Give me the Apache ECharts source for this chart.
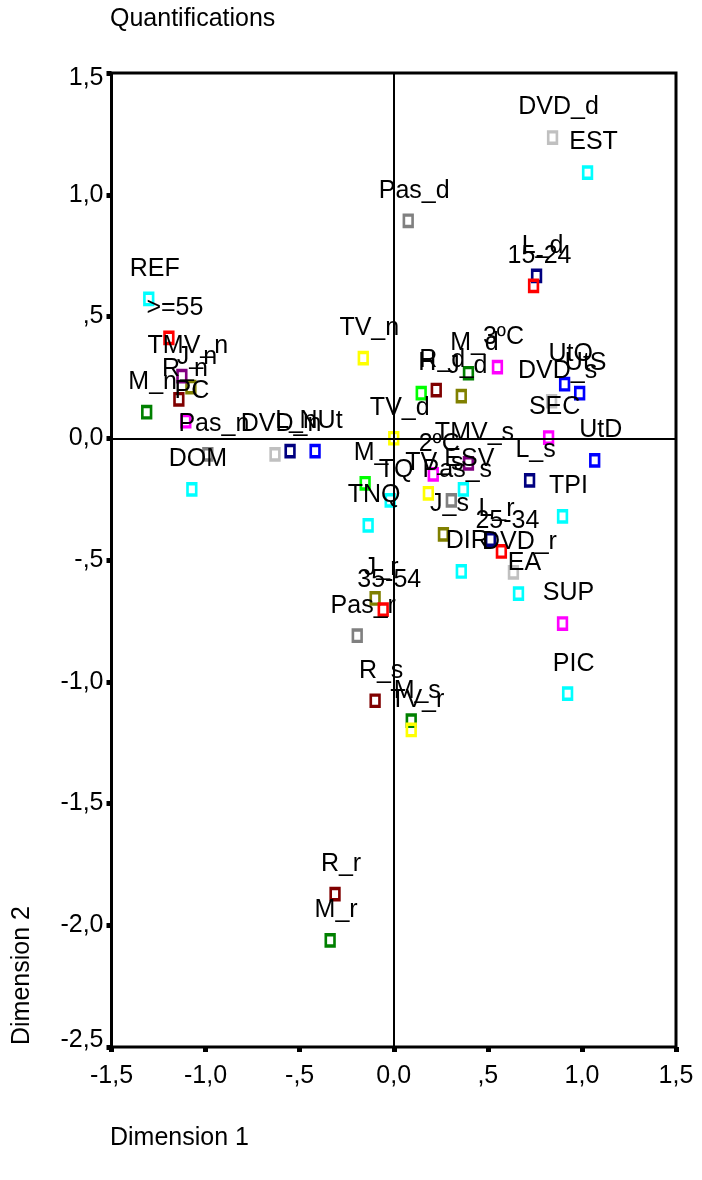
<!DOCTYPE html>
<html>
<head>
<meta charset="utf-8">
<script src="https://cdn.jsdelivr.net/npm/echarts@6/dist/echarts.min.js"></script>
<style>
html,body{margin:0;padding:0;background:#fff;}
#chart{width:702px;height:1180px;}
</style>
</head>
<body>
<div id="chart"></div>
<script>
// ---- data (Dimension 1, Dimension 2) ----
const R_labels = ['R_n', 'R_d', 'R_s', 'R_r'];
const R_dim1 = [-1.142, 0.226, -0.099, -0.312];
const R_dim2 = [0.160, 0.198, -1.078, -1.872];

const M_labels = ['M_n', 'M_d', 'M_s', 'M_r'];
const M_dim1 = [-1.313, 0.397, 0.093, -0.338];
const M_dim2 = [0.107, 0.267, -1.160, -2.062];

const TV_labels = ['TV_n', 'TV_d', 'TV_s', 'TV_r'];
const TV_dim1 = [-0.162, 0.000, 0.184, 0.093];
const TV_dim2 = [0.329, 0.000, -0.226, -1.198];

const J_labels = ['J_n', 'J_d', 'J_s', 'J_r'];
const J_dim1 = [-1.078, 0.359, 0.264, -0.099];
const J_dim2 = [0.210, 0.173, -0.395, -0.658];

const Pas_labels = ['Pas_n', 'Pas_d', 'Pas_s', 'Pas_r'];
const Pas_dim1 = [-0.988, 0.077, 0.306, -0.194];
const Pas_dim2 = [-0.066, 0.893, -0.255, -0.811];

const DVD_labels = ['DVD_n', 'DVD_d', 'DVD_s', 'DVD_r'];
const DVD_dim1 = [-0.631, 0.844, 0.839, 0.636];
const DVD_dim2 = [-0.066, 1.235, 0.152, -0.551];

const L_labels = ['L_n', 'L_d', 'L_s', 'L_r'];
const L_dim1 = [-0.551, 0.759, 0.722, 0.514];
const L_dim2 = [-0.053, 0.667, -0.173, -0.416];

const Ut_labels = ['NUt', 'UtO', 'UtS', 'UtD'];
const Ut_dim1 = [-0.418, 0.908, 0.988, 1.068];
const Ut_dim2 = [-0.053, 0.222, 0.185, -0.091];

const TMV_labels = ['TMV_n', 'TMV_s'];
const TMV_dim1 = [-1.126, 0.397];
const TMV_dim2 = [0.255, -0.103];

const Age_labels = ['15-24', '25-34', '35-54', '>=55'];
const Age_dim1 = [0.743, 0.572, -0.056, -1.195];
const Age_dim2 = [0.626, -0.465, -0.704, 0.412];

const Sex_labels = ['H', 'M_'];
const Sex_dim1 = [0.146, -0.152];
const Sex_dim2 = [0.185, -0.185];

const Edu_labels = ['PC', '2ºC', '3ºC', 'SEC', 'SUP'];
const Edu_dim1 = [-1.105, 0.210, 0.551, 0.823, 0.897];
const Edu_dim2 = [0.070, -0.148, 0.292, 0.003, -0.761];

const Occ_labels = ['REF', 'DOM', 'EST', 'TNQ', 'TQ', 'ESV', 'DIR', 'EA', 'TPI', 'PIC'];
const Occ_dim1 = [-1.302, -1.073, 1.030, -0.136, -0.019, 0.370, 0.359, 0.663, 0.897, 0.924];
const Occ_dim2 = [0.572, -0.210, 1.091, -0.358, -0.255, -0.210, -0.547, -0.638, -0.321, -1.049];

const xTickLabels = ['-1,5', '-1,0', '-,5', '0,0', ',5', '1,0', '1,5'];
const yTickLabels = ['-2,5', '-2,0', '-1,5', '-1,0', '-,5', '0,0', ',5', '1,0', '1,5'];

// ---- styling ----
const FONT = "'Liberation Sans', Arial, Helvetica, sans-serif";
const FS = 25;

const groups = [
  [R_labels, R_dim1, R_dim2, '#800000'],
  [M_labels, M_dim1, M_dim2, '#008000'],
  [TV_labels, TV_dim1, TV_dim2, '#ffff00'],
  [J_labels, J_dim1, J_dim2, '#808000'],
  [Pas_labels, Pas_dim1, Pas_dim2, '#808080'],
  [DVD_labels, DVD_dim1, DVD_dim2, '#c0c0c0'],
  [L_labels, L_dim1, L_dim2, '#000080'],
  [Ut_labels, Ut_dim1, Ut_dim2, '#0000ff'],
  [TMV_labels, TMV_dim1, TMV_dim2, '#800080'],
  [Age_labels, Age_dim1, Age_dim2, '#ff0000'],
  [Sex_labels, Sex_dim1, Sex_dim2, '#00ff00'],
  [Edu_labels, Edu_dim1, Edu_dim2, '#ff00ff'],
  [Occ_labels, Occ_dim1, Occ_dim2, '#00ffff']
];

const series = groups.map(function (g, gi) {
  const labels = g[0], d1 = g[1], d2 = g[2], col = g[3];
  return {
    type: 'scatter',
    name: 'g' + gi,
    symbol: 'rect',
    symbolSize: [8.7, 11.3],
    itemStyle: { color: 'rgba(0,0,0,0)', borderColor: col, borderWidth: 3, opacity: 1 },
    label: {
      show: true,
      position: 'inside',
      offset: [6, -30],
      formatter: function (p) { return p.data[2]; },
      color: '#000',
      fontFamily: FONT,
      fontSize: FS,
      lineHeight: FS
    },
    emphasis: { disabled: true },
    silent: true,
    data: labels.map(function (l, i) { return [d1[i], d2[i], l]; }),
    z: 3
  };
});

// zero reference lines
series.push({
  type: 'line',
  data: [],
  silent: true,
  markLine: {
    silent: true,
    symbol: 'none',
    label: { show: false },
    lineStyle: { color: '#000', width: 2, type: 'solid' },
    data: [{ xAxis: 0 }, { yAxis: 0 }]
  },
  z: 2
});

const tickText = { color: '#000', fontFamily: FONT, fontSize: FS, lineHeight: FS };

const chart = echarts.init(document.getElementById('chart'), null, { renderer: 'canvas' });
chart.setOption({
  animation: false,
  backgroundColor: '#fff',
  title: {
    text: 'Quantifications',
    left: 110,
    top: 7,
    padding: 0,
    textStyle: { fontFamily: FONT, fontSize: FS, fontWeight: 'normal', color: '#000', lineHeight: FS }
  },
  grid: {
    left: 111.5, right: 26, top: 73, bottom: 133,
    show: true, borderColor: '#000', borderWidth: 3, backgroundColor: 'transparent'
  },
  xAxis: {
    type: 'value', min: -1.5, max: 1.5, interval: 0.5, position: 'bottom',
    axisLine: { show: false, onZero: false },
    splitLine: { show: false },
    axisTick: { show: true, inside: false, length: 5, lineStyle: { color: '#000', width: 5 } },
    axisLabel: {
      margin: 17, color: '#000', fontFamily: FONT, fontSize: FS,
      formatter: function (v) { return xTickLabels[Math.round((v + 1.5) / 0.5)]; }
    }
  },
  yAxis: {
    type: 'value', min: -2.5, max: 1.5, interval: 0.5, position: 'left',
    axisLine: { show: false, onZero: false },
    splitLine: { show: false },
    axisTick: { show: true, inside: false, length: 5, lineStyle: { color: '#000', width: 5 } },
    axisLabel: {
      margin: 8, color: '#000', fontFamily: FONT, fontSize: FS,
      formatter: function (v) {
        const i = Math.round((v + 2.5) / 0.5);
        const t = yTickLabels[i];
        if (i === 0) return '{lo|' + t + '}';
        if (i === yTickLabels.length - 1) return '{hi|' + t + '}';
        return t;
      },
      rich: {
        lo: Object.assign({ padding: [0, 0, 14, 0] }, tickText),
        hi: Object.assign({ padding: [10, 0, 0, 0] }, tickText)
      }
    }
  },
  graphic: [
    { type: 'text', left: 110, top: 1126, style: { text: 'Dimension 1', fontFamily: FONT, fontSize: FS, fill: '#000' } },
    { type: 'text', x: 22, y: 1045, rotation: Math.PI / 2,
      style: { text: 'Dimension 2', fontFamily: FONT, fontSize: FS, fill: '#000', align: 'left', verticalAlign: 'middle' } }
  ],
  series: series
});
</script>
</body>
</html>
